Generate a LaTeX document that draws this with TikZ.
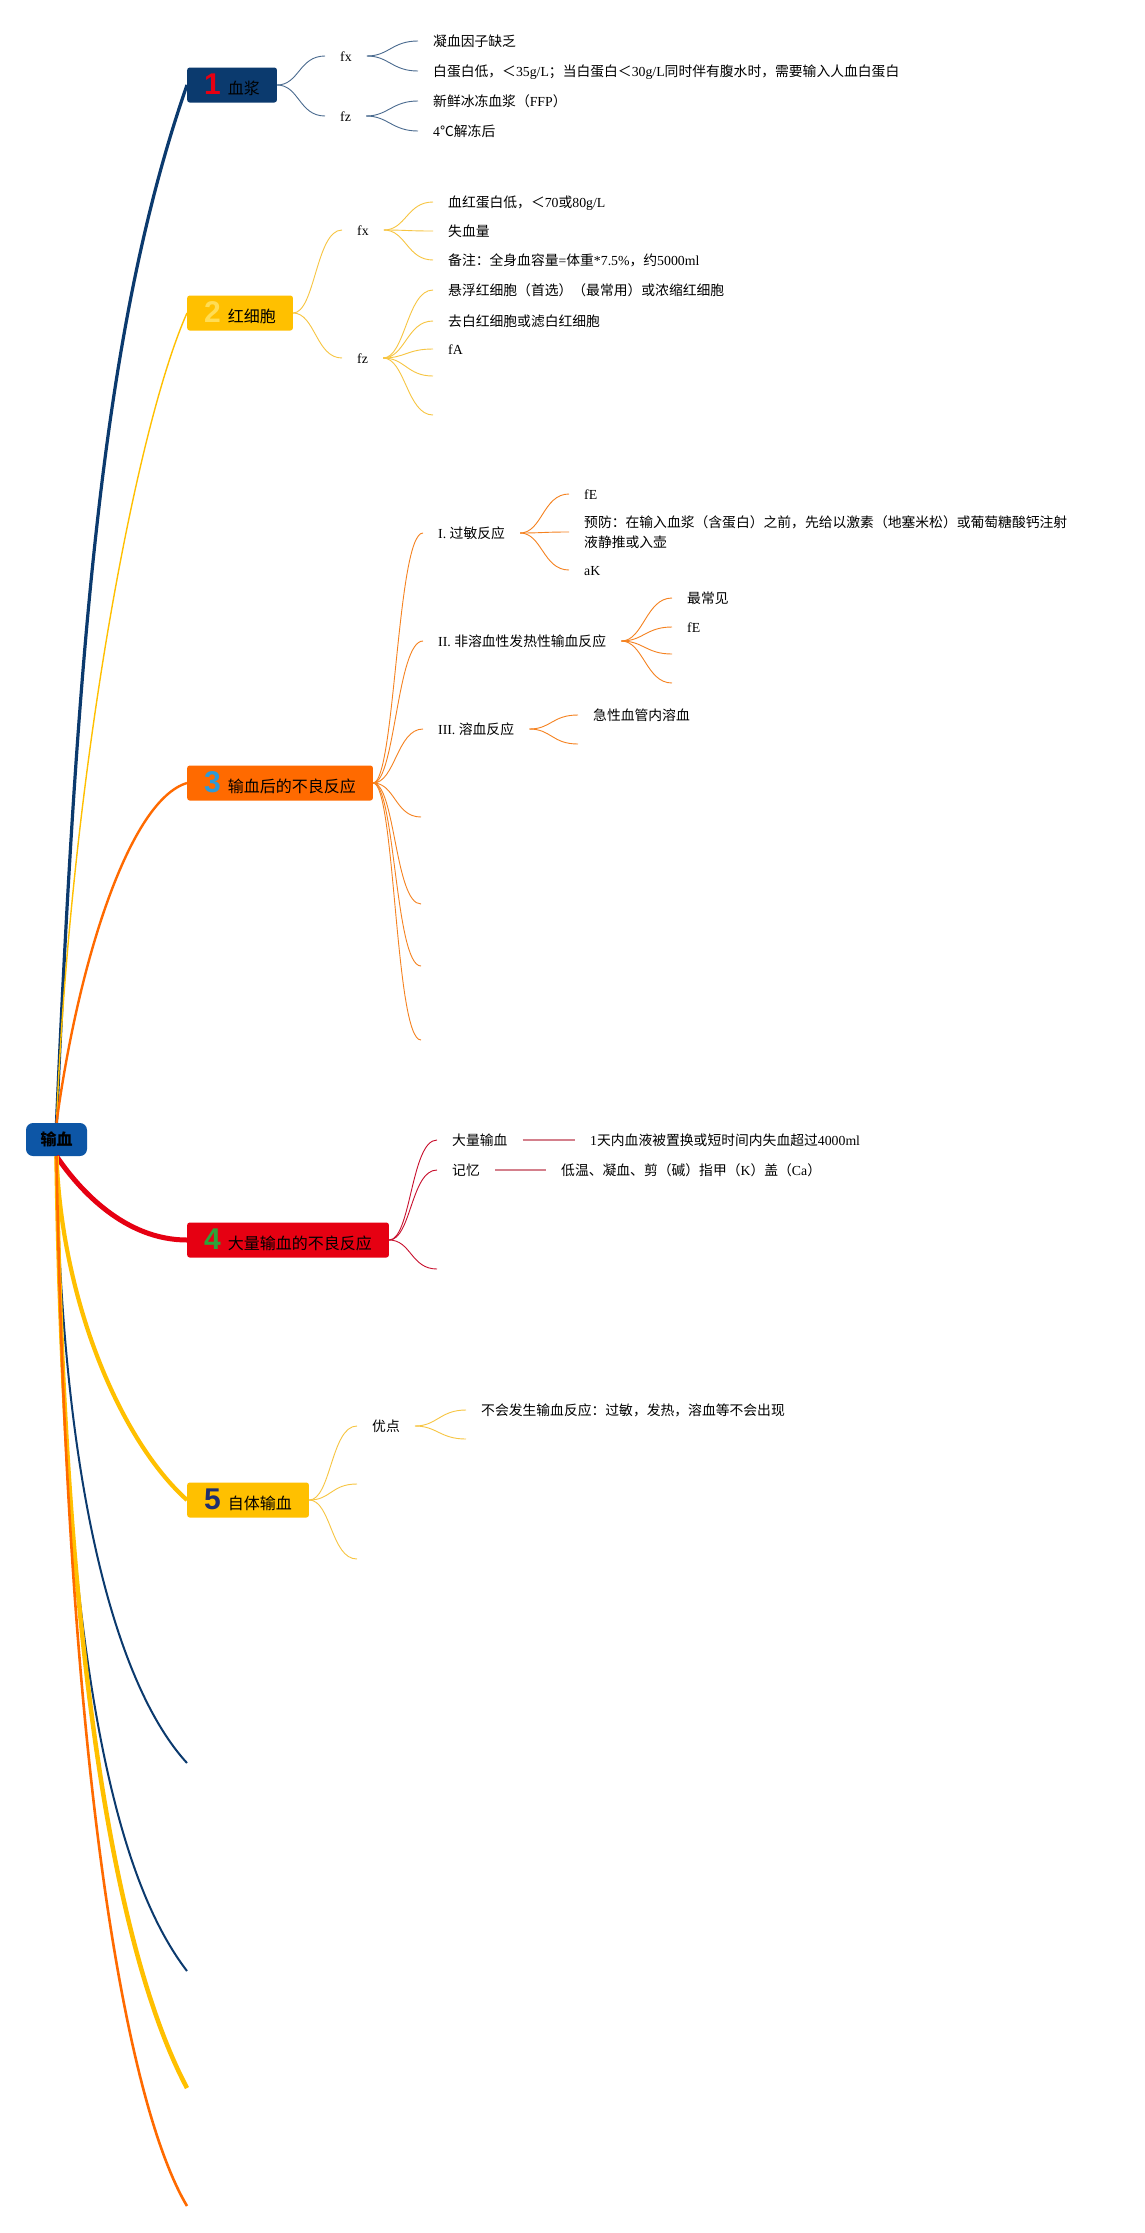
\documentclass[tikz,border=0pt]{standalone}
\usepackage{fontspec}
\setmainfont{Liberation Serif}
\newfontfamily\cjk{Noto Sans CJK SC}
\newfontfamily\numfont{Liberation Sans}
\newcommand\latn[1]{{\rmfamily #1}}
\newcommand\bignum[2]{{\numfont\bfseries\fontsize{30}{30}\selectfont\color{#1}#2}\hspace{7pt}}
\definecolor{mmnavy}{HTML}{0B3A6E}
\definecolor{rootblue}{HTML}{0D56A6}
\definecolor{gold}{HTML}{FFC000}
\definecolor{lightgold}{HTML}{FFDD55}
\definecolor{tangerine}{HTML}{FF6A00}
\definecolor{crimson}{HTML}{E60012}
\definecolor{skyblue}{HTML}{2E9AD8}
\definecolor{leafgreen}{HTML}{2DA33A}
\definecolor{ink}{HTML}{1F2F6F}
\definecolor{slate}{HTML}{4A6B8F}
\definecolor{rose}{HTML}{D4808C}
\definecolor{twigorange}{HTML}{F58220}
\definecolor{twigred}{HTML}{C8102E}
\definecolor{twiggold}{HTML}{F7C542}
\begin{document}
\begin{tikzpicture}[x=1pt,y=-1pt,
  root/.style={fill=rootblue,rounded corners=7pt,minimum width=61pt,minimum height=33pt,
    inner sep=0pt,font=\cjk\bfseries\fontsize{16}{18}\selectfont},
  box/.style={anchor=west,rounded corners=2.5pt,inner xsep=17pt,inner ysep=0pt,
    minimum height=35pt,text height=18pt,text depth=0pt,font=\cjk\fontsize{16}{18}\selectfont},
  lbl/.style={anchor=west,inner xsep=15pt,inner ysep=0pt,text height=12pt,text depth=2pt,
    font=\cjk\fontsize{13.8}{16}\selectfont},
  twig/.style={draw=#1,line width=0.9pt,
    to path={.. controls +(22,0) and +(-26,0) .. (\tikztotarget)}}]
% mind map, page units are pixels of the 1145x2233 sheet
\fill[white] (0,0) rectangle (1145,2233);
\useasboundingbox (0,0) rectangle (1145,2233);
\node[root] (root) at (56.5,1139.5) {输血};
\node[box,fill=mmnavy] (b1) at (187,85) {\bignum{crimson}{1}血浆};
\node[box,fill=gold] (b2) at (187,313) {\bignum{lightgold}{2}红细胞};
\node[box,fill=tangerine] (b3) at (187,783) {\bignum{skyblue}{3}输血后的不良反应};
\node[box,fill=crimson] (b4) at (187,1240) {\bignum{leafgreen}{4}大量输血的不良反应};
\node[box,fill=gold] (b5) at (187,1500) {\bignum{ink}{5}自体输血};
\coordinate (t6) at (187,1763);
\coordinate (t7) at (187,1971);
\coordinate (t8) at (187,2088);
\coordinate (t9) at (187,2206);
\draw[mmnavy,line width=3.2pt] (root.north) .. controls +(22,-500) and +(-82,236) .. (b1.west);
\draw[gold,line width=1.4pt] (root.north) .. controls +(14,-343) and +(-52,117) .. (b2.west);
\draw[tangerine,line width=2.4pt] (root.north) .. controls +(22,-163) and +(-57,17) .. (b3.west);
\draw[crimson,line width=5pt] (root.south) .. controls +(23,34) and +(-62,0) .. (b4.west);
\draw[gold,line width=4.2pt] (root.south) .. controls +(5,144) and +(-67,-60) .. (b5.west);
\draw[mmnavy,line width=2pt] (root.south) .. controls +(5,344) and +(-67,-73) .. (t6);
\draw[mmnavy,line width=2pt] (root.south) .. controls +(5,544) and +(-62,-81) .. (t7);
\draw[gold,line width=4.5pt] (root.south) .. controls +(9,594) and +(-52,-98) .. (t8);
\draw[tangerine,line width=2.6pt] (root.south) .. controls +(11,644) and +(-57,-96) .. (t9);
\node[lbl] (b1x) at (325,56) {\latn{fx}};
\node[lbl] (b1z) at (325,116) {\latn{fz}};
\node[lbl] (b1x1) at (418,41) {凝血因子缺乏};
\node[lbl] (b1x2) at (418,71) {白蛋白低，＜\latn{35g/L}；当白蛋白＜\latn{30g/L}同时伴有腹水时，需要输入人血白蛋白};
\node[lbl] (b1z1) at (418,101) {新鲜冰冻血浆（\latn{FFP}）};
\node[lbl] (b1z2) at (418,131) {\latn{4}℃解冻后};
\foreach \k in {b1x,b1z} \draw[twig=slate] (b1.east) to (\k.west);
\foreach \k in {b1x1,b1x2} \draw[twig=slate] (b1x.east) to (\k.west);
\foreach \k in {b1z1,b1z2} \draw[twig=slate] (b1z.east) to (\k.west);
\node[lbl] (b2x) at (342,230) {\latn{fx}};
\node[lbl] (b2z) at (342,358) {\latn{fz}};
\node[lbl] (b2x1) at (433,202) {血红蛋白低，＜\latn{70}或\latn{80g/L}};
\node[lbl] (b2x2) at (433,231) {失血量};
\node[lbl] (b2x3) at (433,260) {备注：全身血容量\latn{=}体重\latn{*7.5\%}，约\latn{5000ml}};
\node[lbl] (b2z1) at (433,290) {悬浮红细胞（首选）（最常用）或浓缩红细胞};
\node[lbl] (b2z2) at (433,321) {去白红细胞或滤白红细胞};
\node[lbl] (b2z3) at (433,349) {\latn{fA}};
\coordinate (b2z4) at (433,376);
\coordinate (b2z5) at (433,415);
\foreach \k in {b2x,b2z} \draw[twig=twiggold] (b2.east) to (\k.west);
\foreach \k in {b2x1,b2x2,b2x3} \draw[twig=twiggold] (b2x.east) to (\k.west);
\foreach \k in {b2z1.west,b2z2.west,b2z3.west,b2z4,b2z5} \draw[twig=twiggold] (b2z.east) to (\k);
\node[lbl] (b3a) at (423,533) {\latn{I. }过敏反应};
\node[lbl] (b3b) at (423,641) {\latn{II. }非溶血性发热性输血反应};
\node[lbl] (b3c) at (423,729) {\latn{III. }溶血反应};
\coordinate (b3d) at (421,817);
\coordinate (b3e) at (421,904);
\coordinate (b3f) at (421,966);
\coordinate (b3g) at (421,1040);
\node[lbl] (b3a1) at (569,494) {\latn{fE}};
\node[lbl,text depth=22pt] (b3a2) at (569,532) {\vtop{\baselineskip=20pt
  \hbox{预防：在输入血浆（含蛋白）之前，先给以激素（地塞米松）或葡萄糖酸钙注射}
  \hbox{液静推或入壶}}};
\node[lbl] (b3a3) at (569,570) {\latn{aK}};
\node[lbl] (b3b1) at (672,598) {最常见};
\node[lbl] (b3b2) at (672,627) {\latn{fE}};
\coordinate (b3b3) at (672,654);
\coordinate (b3b4) at (672,683);
\node[lbl] (b3c1) at (578,715) {急性血管内溶血};
\coordinate (b3c2) at (578,744);
\foreach \k in {b3a.west,b3b.west,b3c.west,b3d,b3e,b3f,b3g} \draw[twig=twigorange] (b3.east) to (\k);
\foreach \k in {b3a1,b3a2,b3a3} \draw[twig=twigorange] (b3a.east) to (\k.west);
\foreach \k in {b3b1.west,b3b2.west,b3b3,b3b4} \draw[twig=twigorange] (b3b.east) to (\k);
\foreach \k in {b3c1.west,b3c2} \draw[twig=twigorange] (b3c.east) to (\k);
\node[lbl] (b4a) at (437,1140) {大量输血};
\node[lbl] (b4b) at (437,1170) {记忆};
\coordinate (b4c) at (437,1269);
\node[lbl] (b4a1) at (575,1140) {\latn{1}天内血液被置换或短时间内失血超过\latn{4000ml}};
\node[lbl] (b4b1) at (546,1170) {低温、凝血、剪（碱）指甲（\latn{K}）盖（\latn{Ca}）};
\foreach \k in {b4a.west,b4b.west,b4c} \draw[twig=twigred] (b4.east) to (\k);
\draw[rose,line width=2pt] (b4a.east) -- (b4a1.west);
\draw[rose,line width=2pt] (b4b.east) -- (b4b1.west);
\node[lbl] (b5a) at (357,1426) {优点};
\coordinate (b5b) at (357,1484);
\coordinate (b5c) at (357,1559);
\node[lbl] (b5a1) at (466,1410) {不会发生输血反应：过敏，发热，溶血等不会出现};
\coordinate (b5a2) at (466,1439);
\foreach \k in {b5a.west,b5b,b5c} \draw[twig=twiggold] (b5.east) to (\k);
\foreach \k in {b5a1.west,b5a2} \draw[twig=twiggold] (b5a.east) to (\k);
\end{tikzpicture}
\end{document}
